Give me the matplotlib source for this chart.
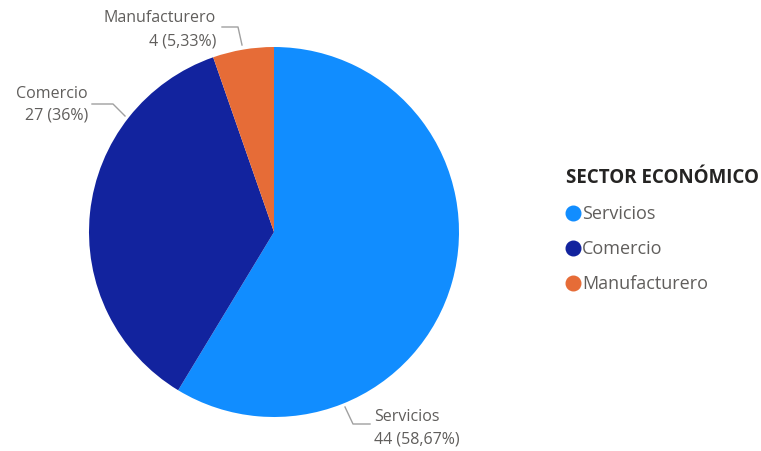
import matplotlib.pyplot as plt
from matplotlib.lines import Line2D

plt.rcParams['font.family'] = ['Open Sans', 'DejaVu Sans']

# datos
sectores = ["Servicios", "Comercio", "Manufacturero"]
valores = [44, 27, 4]
colores = ["#118DFF", "#12239E", "#E66C37"]

W, H = 761, 451
total = sum(valores)
pct = [v / total * 100 for v in valores]


def fmt_pct(p):
    s = f"{p:.2f}".rstrip("0").rstrip(".")
    return s.replace(".", ",") + "%"


fig = plt.figure(figsize=(W / 100, H / 100), dpi=100)
ax = fig.add_axes([0, 0, 1, 1])

ax.pie(valores, colors=colores, startangle=90, counterclock=False,
       center=(274, H - 232), radius=185, frame=True,
       wedgeprops=dict(linewidth=0))
ax.set_xlim(0, W)
ax.set_ylim(0, H)
ax.axis("off")

gris = "#605E5C"
linea = "#A0A0A0"
fs = 11.5

# etiquetas con lineas guia (posiciones en pixeles)
etiquetas = {
    "Servicios": dict(path=[(345, 407), (353, 424), (370, 424)], x=374, y1=417, y2=439, ha="left"),
    "Comercio": dict(path=[(125, 116), (113, 104), (92, 104)], x=88, y1=94, y2=116, ha="right"),
    "Manufacturero": dict(path=[(242, 45), (238, 27), (222, 27)], x=216, y1=18, y2=41, ha="right"),
}
for i, s in enumerate(sectores):
    e = etiquetas[s]
    xs = [p[0] for p in e["path"]]
    ys = [H - p[1] for p in e["path"]]
    ax.plot(xs, ys, color=linea, lw=1)
    ax.text(e["x"], H - e["y1"], s, ha=e["ha"], va="center", fontsize=fs, color=gris)
    ax.text(e["x"], H - e["y2"], f"{valores[i]} ({fmt_pct(pct[i])})",
            ha=e["ha"], va="center", fontsize=fs, color=gris)

# leyenda
handles = [Line2D([], [], marker="o", ls="", color=c, markersize=10.5) for c in colores]
leg = fig.legend(handles, sectores, loc="upper left",
                 bbox_to_anchor=(566 / W, 1 - 168 / H),
                 title="SECTOR ECONÓMICO", frameon=False,
                 fontsize=13, labelspacing=0.95, handlelength=0.75,
                 handletextpad=0.15, borderpad=0, borderaxespad=0)
leg.get_title().set_fontweight("bold")
leg.get_title().set_fontsize(13.5)
leg.get_title().set_color("#252423")
leg._legend_box.align = "left"
for t in leg.get_texts():
    t.set_color(gris)

fig.savefig("out.png", dpi=100)
